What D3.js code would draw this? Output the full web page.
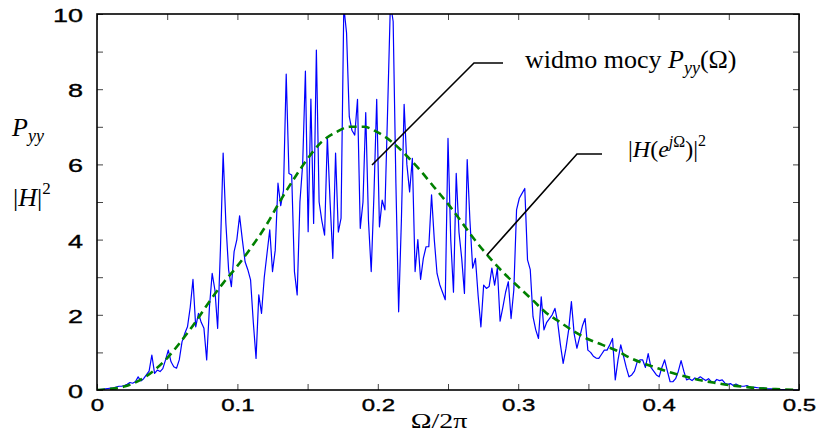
<!DOCTYPE html>
<html>
<head>
<meta charset="utf-8">
<script src="https://cdn.jsdelivr.net/npm/d3@7/dist/d3.min.js"></script>
<style>
  body { margin: 0; background: #fff; }
  text { fill: #000; }
</style>
</head>
<body>
<svg id="chart" width="817" height="436"></svg>
<script>

// periodogram P_yy, one value per bin k/512, k = 0..256
var pyy = [
  0, 0.01, 0.02, 0.03, 0.04, 0.05, 0.06, 0.08, 0.1, 0.1,
  0.12, 0.15, 0.2, 0.18, 0.22, 0.35, 0.24, 0.3, 0.4, 0.5,
  0.93, 0.44, 0.53, 0.49, 0.57, 0.8, 1.06, 0.75, 0.62, 0.58,
  0.8, 1.28, 1.5, 1.68, 2.2, 2.94, 1.68, 2.04, 1.8, 1.64,
  0.8, 2.2, 3.1, 2.66, 1.64, 3.72, 6.3, 4.43, 3.19, 2.75,
  3.68, 4.0, 4.63, 4.0, 3.41, 3.2, 2.93, 1.8, 0.84, 2.53,
  2.04, 3.0, 3.63, 4.26, 3.15, 3.72, 5.5, 4.9, 5.3, 8.4,
  5.76, 5.72, 3.15, 2.53, 5.0, 6.0, 8.48, 4.21, 7.74, 4.43,
  9.04, 5.0, 4.5, 4.12, 6.74, 5.0, 3.5, 6.3, 4.2, 4.57,
  10.2, 9.5, 7.27, 6.9, 6.78, 7.73, 4.3, 5.0, 7.38, 4.5,
  3.15, 5.2, 7.73, 4.34, 5.05, 4.79, 7.5, 10.3, 9.8, 5.5,
  2.08, 4.5, 7.6, 6.0, 5.27, 6.16, 3.15, 4.0, 2.94, 3.5,
  3.81, 3.81, 5.19, 4.0, 3.1, 2.8, 2.6, 2.4, 6.69, 4.0,
  2.6, 5.76, 4.2, 3.5, 2.57, 6.13, 4.5, 3.24, 3.5, 2.5,
  1.68, 2.79, 2.7, 2.75, 3.24, 2.79, 3.24, 1.83, 2.2, 2.6,
  2.88, 1.9, 2.66, 4.79, 5.1, 5.23, 5.36, 3.46, 3.2, 1.95,
  1.6, 1.37, 2.48, 1.6, 1.8, 1.9, 2.0, 2.17, 1.8, 1.2,
  0.71, 1.1, 1.6, 2.35, 1.5, 1.11, 1.4, 1.7, 1.9, 1.06,
  1.0, 0.9, 0.85, 0.84, 0.95, 1.06, 1.06, 1.2, 1.37, 0.27,
  0.8, 1.2, 0.9, 0.6, 0.35, 0.4, 0.5, 0.75, 0.8, 0.8,
  0.6, 0.97, 0.6, 0.5, 0.4, 0.35, 0.6, 0.8, 0.5, 0.22,
  0.22, 0.3, 0.5, 0.78, 0.5, 0.27, 0.3, 0.25, 0.32, 0.3,
  0.35, 0.3, 0.25, 0.3, 0.22, 0.2, 0.28, 0.25, 0.27, 0.18,
  0.15, 0.17, 0.12, 0.16, 0.12, 0.1, 0.1, 0.12, 0.08, 0.07,
  0.07, 0.06, 0.05, 0.06, 0.04, 0.03, 0.03, 0.02, 0.02, 0.01,
  0.01, 0.01, 0.01, 0, 0, 0, 0
];

// |H(e^jW)|^2 read every 0.01
var hFreq = [0, 0.01, 0.02, 0.03, 0.04, 0.05, 0.06, 0.07, 0.08, 0.09,
  0.1, 0.11, 0.12, 0.13, 0.14, 0.15, 0.16, 0.17, 0.18, 0.19,
  0.2, 0.21, 0.22, 0.23, 0.24, 0.25, 0.26, 0.27, 0.28, 0.29,
  0.3, 0.31, 0.32, 0.33, 0.34, 0.35, 0.36, 0.37, 0.38, 0.39,
  0.4, 0.41, 0.42, 0.43, 0.44, 0.45, 0.46, 0.47, 0.48, 0.49, 0.5];
var hVal = [0, 0.03, 0.1, 0.25, 0.5, 0.85, 1.3, 1.8, 2.35, 2.85,
  3.3, 3.8, 4.35, 5.0, 5.6, 6.15, 6.6, 6.85, 7.0, 7.0,
  6.85, 6.6, 6.25, 5.85, 5.4, 4.95, 4.45, 3.95, 3.5, 3.1,
  2.75, 2.4, 2.05, 1.8, 1.55, 1.35, 1.2, 1.05, 0.85, 0.7,
  0.57, 0.45, 0.35, 0.26, 0.19, 0.13, 0.09, 0.05, 0.03, 0.01, 0];

var xTicks = [0, 0.05, 0.1, 0.15, 0.2, 0.25, 0.3, 0.35, 0.4, 0.45, 0.5];
var xTickLabels = ["0", "", "0.1", "", "0.2", "", "0.3", "", "0.4", "", "0.5"];
var yTicks = [0, 1, 2, 3, 4, 5, 6, 7, 8, 9, 10];
var yTickLabels = ["0", "", "2", "", "4", "", "6", "", "8", "", "10"];

var plotLeft = 97, plotRight = 799, plotTop = 14, plotBottom = 390;
var svg = d3.select("#chart");

var x = d3.scaleLinear().domain([0, 0.5]).range([plotLeft, plotRight]);
var y = d3.scaleLinear().domain([0, 10]).range([plotBottom, plotTop]);

svg.append("defs").append("clipPath").attr("id", "frame")
   .append("rect")
   .attr("x", plotLeft).attr("y", plotTop)
   .attr("width", plotRight - plotLeft).attr("height", plotBottom - plotTop);

// axes, ticks pointing inward
var sans = "'Liberation Sans', Arial, sans-serif";

svg.append("g")
   .attr("transform", "translate(0," + plotBottom + ")")
   .call(d3.axisBottom(x).tickValues(xTicks)
           .tickFormat(function(d, i) { return xTickLabels[i]; })
           .tickSizeInner(-6).tickSizeOuter(0).tickPadding(10))
   .call(function(g) {
      g.select(".domain").remove();
      g.selectAll("line").attr("stroke", "#444");
      g.selectAll("text").attr("font-family", sans).attr("font-size", 16)
       .attr("stroke", "#000").attr("stroke-width", 0.35)
       .attr("transform", "scale(1.5,1)");
   });

svg.append("g")
   .attr("transform", "translate(0," + plotTop + ")")
   .call(d3.axisTop(x).tickValues(xTicks).tickFormat("")
           .tickSizeInner(-6).tickSizeOuter(0))
   .call(function(g) {
      g.select(".domain").remove();
      g.selectAll("line").attr("stroke", "#444");
   });

svg.append("g")
   .attr("transform", "translate(" + plotLeft + ",0)")
   .call(d3.axisLeft(y).tickValues(yTicks)
           .tickFormat(function(d, i) { return yTickLabels[i]; })
           .tickSizeInner(-6).tickSizeOuter(0).tickPadding(14))
   .call(function(g) {
      g.select(".domain").remove();
      g.selectAll("line").attr("stroke", "#444");
      g.selectAll("text").attr("font-family", sans).attr("font-size", 18)
       .attr("stroke", "#000").attr("stroke-width", 0.35)
       .attr("x", -14 / 1.5).attr("dy", "0.42em")
       .attr("transform", "scale(1.5,1)");
   });

svg.append("g")
   .attr("transform", "translate(" + plotRight + ",0)")
   .call(d3.axisRight(y).tickValues(yTicks).tickFormat("")
           .tickSizeInner(-6).tickSizeOuter(0))
   .call(function(g) {
      g.select(".domain").remove();
      g.selectAll("line").attr("stroke", "#444");
   });

// curves
var plots = svg.append("g").attr("clip-path", "url(#frame)");

var pLine = d3.line()
   .x(function(d, i) { return x(i / 512); })
   .y(function(d) { return y(d); });

plots.append("path")
   .datum(pyy)
   .attr("d", pLine)
   .attr("fill", "none")
   .attr("stroke", "#0000ff")
   .attr("stroke-width", 1.2)
   .attr("stroke-linejoin", "round");

var hLine = d3.line()
   .x(function(d, i) { return x(hFreq[i]); })
   .y(function(d) { return y(d); })
   .curve(d3.curveMonotoneX);

plots.append("path")
   .datum(hVal)
   .attr("d", hLine)
   .attr("fill", "none")
   .attr("stroke", "#008000")
   .attr("stroke-width", 2.6)
   .attr("stroke-dasharray", "8,5");

// frame
svg.append("rect")
   .attr("x", plotLeft).attr("y", plotTop)
   .attr("width", plotRight - plotLeft).attr("height", plotBottom - plotTop)
   .attr("fill", "none")
   .attr("stroke", "#000")
   .attr("stroke-width", 1.6);

// labels
var serif = "'Liberation Serif', 'Times New Roman', serif";

svg.append("text")
   .attr("transform", "translate(439,428) scale(1.4,1)")
   .attr("text-anchor", "middle")
   .attr("font-family", serif).attr("font-size", 20)
   .text("Ω/2π");

var pLab = svg.append("text")
   .attr("x", 12).attr("y", 136)
   .attr("font-family", serif).attr("font-size", 26);
pLab.append("tspan").attr("font-style", "italic").text("P");
pLab.append("tspan").attr("font-style", "italic").attr("font-size", 18)
    .attr("dy", 6).text("yy");

var hLab = svg.append("text")
   .attr("x", 13).attr("y", 206)
   .attr("font-family", serif).attr("font-size", 26);
hLab.append("tspan").text("|");
hLab.append("tspan").attr("font-style", "italic").text("H");
hLab.append("tspan").text("|");
hLab.append("tspan").attr("font-size", 17).attr("dy", -12).text("2");

// annotation leaders
svg.append("polyline")
   .attr("points", "372,165 474,63 503,63")
   .attr("fill", "none").attr("stroke", "#000").attr("stroke-width", 1.6);

svg.append("polyline")
   .attr("points", "487,255 577,154 602,154")
   .attr("fill", "none").attr("stroke", "#000").attr("stroke-width", 1.6);

var a1 = svg.append("text")
   .attr("x", 525).attr("y", 68)
   .attr("font-family", serif).attr("font-size", 26);
a1.append("tspan").text("widmo mocy ");
a1.append("tspan").attr("font-style", "italic").text("P");
a1.append("tspan").attr("font-style", "italic").attr("font-size", 18)
  .attr("dy", 6).text("yy");
a1.append("tspan").attr("dy", -6).text("(Ω)");

var a2 = svg.append("text")
   .attr("x", 628).attr("y", 157)
   .attr("font-family", serif).attr("font-size", 24);
a2.append("tspan").text("|");
a2.append("tspan").attr("font-style", "italic").text("H");
a2.append("tspan").text("(");
a2.append("tspan").attr("font-style", "italic").text("e");
a2.append("tspan").attr("font-style", "italic").attr("font-size", 16)
  .attr("dy", -10).text("j");
a2.append("tspan").attr("font-size", 16).text("Ω");
a2.append("tspan").attr("dy", 10).text(")|");
a2.append("tspan").attr("font-size", 16).attr("dy", -11).text("2");

</script>
</body>
</html>
